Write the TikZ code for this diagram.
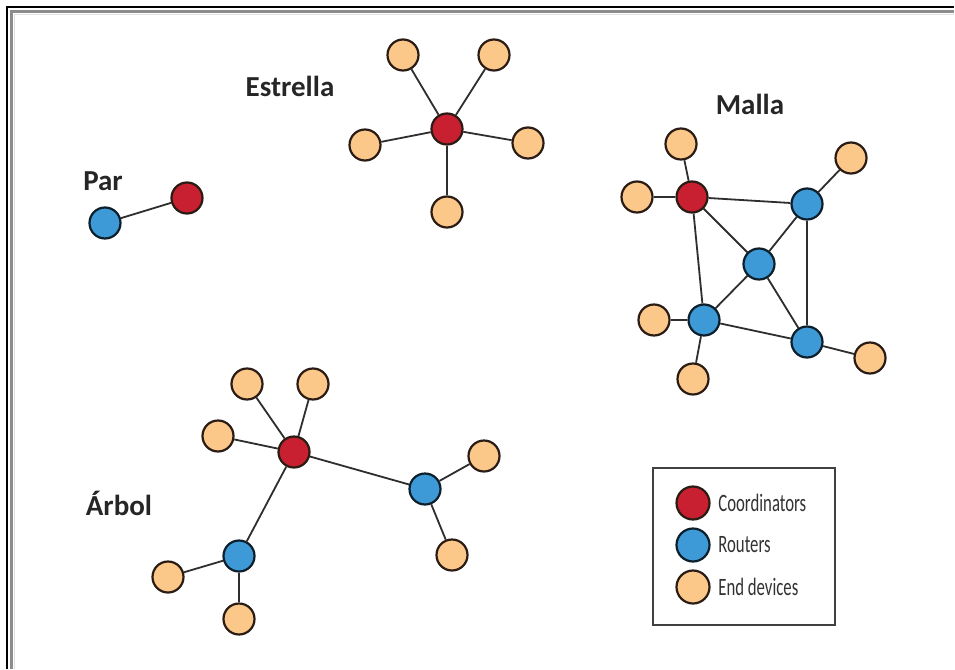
\documentclass[tikz,border=0pt]{standalone}
\usepackage{fontspec}
\setmainfont{Carlito}
\definecolor{cred}{HTML}{C82030}
\definecolor{cblue}{HTML}{3E9AD6}
\definecolor{corange}{HTML}{FBC88A}
\definecolor{cedge}{HTML}{2E2E2E}
\definecolor{crim}{HTML}{2A1C14}
\tikzset{
  dev/.style={circle, draw=crim, line width=2.2pt, minimum size=31pt, inner sep=0pt},
  coord/.style={dev, fill=cred},
  router/.style={dev, fill=cblue, draw=black!80!cblue},
  enddev/.style={dev, fill=corange},
  link/.style={draw=cedge, line width=1.8pt},
  title/.style={font=\fontsize{29}{32}\selectfont\bfseries, text=black!85},
  legtext/.style={font=\fontsize{25}{28}\selectfont, text=black!80, anchor=west, xscale=0.67}
}
\begin{document}
\begin{tikzpicture}[x=1pt,y=-1pt]
\useasboundingbox (0,0) rectangle (955,669);
\fill[white] (0,0) rectangle (955,669);
% frame (left and top only)
\draw[black, line width=2pt] (7,669) -- (7,7) -- (954,7);
\draw[black!45, line width=2.5pt] (11.5,669) -- (11.5,11.5) -- (954,11.5);
\draw[black!12, line width=1.5pt] (14.5,669) -- (14.5,14.5) -- (954,14.5);

% Par
\node[title] (tpar) at (103,181) {Par};
\node[router] (pb) at (105,223) {};
\node[coord] (pr) at (187,198) {};
\draw[link] (pb) -- (pr);

% Estrella
\node[title] (test) at (290,86) {Estrella};
\node[coord] (sr) at (447,129) {};
\node[enddev] (s1) at (403,55) {};
\node[enddev] (s2) at (494,55) {};
\node[enddev] (s3) at (365,145) {};
\node[enddev] (s4) at (528,143) {};
\node[enddev] (s5) at (447,212) {};
\foreach \e in {s1,s2,s3,s4,s5} \draw[link] (sr) -- (\e);

% Malla
\node[title] (tmal) at (750,104) {Malla};
\node[coord] (mr) at (692,197) {};
\node[enddev] (me1) at (681,144) {};
\node[enddev] (me2) at (637,197) {};
\node[router] (mb1) at (807,204) {};
\node[enddev] (me3) at (851,158) {};
\node[router] (mb2) at (759,264) {};
\node[router] (mb3) at (704,320) {};
\node[enddev] (me4) at (654,320) {};
\node[enddev] (me5) at (693,379) {};
\node[router] (mb4) at (807,342) {};
\node[enddev] (me6) at (870,358) {};
\draw[link] (mr) -- (me1);
\draw[link] (mr) -- (me2);
\draw[link] (mr) -- (mb1);
\draw[link] (mr) -- (mb2);
\draw[link] (mr) -- (mb3);
\draw[link] (mb1) -- (me3);
\draw[link] (mb1) -- (mb2);
\draw[link] (mb1) -- (mb4);
\draw[link] (mb2) -- (mb3);
\draw[link] (mb2) -- (mb4);
\draw[link] (mb3) -- (mb4);
\draw[link] (mb3) -- (me4);
\draw[link] (mb3) -- (me5);
\draw[link] (mb4) -- (me6);

% Arbol
\node[title] (tarb) at (119,503) {Árbol};
\node[coord] (ar) at (294,452) {};
\node[enddev] (ae1) at (247,384) {};
\node[enddev] (ae2) at (313,384) {};
\node[enddev] (ae3) at (218,436) {};
\node[router] (ab1) at (425,489) {};
\node[enddev] (ae4) at (484,456) {};
\node[enddev] (ae5) at (452,555) {};
\node[router] (ab2) at (239,556) {};
\node[enddev] (ae6) at (168,577) {};
\node[enddev] (ae7) at (239,619) {};
\draw[link] (ar) -- (ae1);
\draw[link] (ar) -- (ae2);
\draw[link] (ar) -- (ae3);
\draw[link] (ar) -- (ab1);
\draw[link] (ar) -- (ab2);
\draw[link] (ab1) -- (ae4);
\draw[link] (ab1) -- (ae5);
\draw[link] (ab2) -- (ae6);
\draw[link] (ab2) -- (ae7);

% Legend
\node[draw=black!75, line width=2pt, minimum width=182pt, minimum height=157pt, inner sep=0pt] (leg) at (744,546.5) {};
\node[coord, minimum size=33pt] (lc) at (693,503) {};
\node[router, minimum size=33pt] (lr) at (693,545) {};
\node[enddev, minimum size=33pt] (le) at (693,587) {};
\node[legtext] (ltc) at (716,503) {Coordinators};
\node[legtext] (ltr) at (716,545) {Routers};
\node[legtext] (lte) at (716,587) {End devices};
\end{tikzpicture}
\end{document}
